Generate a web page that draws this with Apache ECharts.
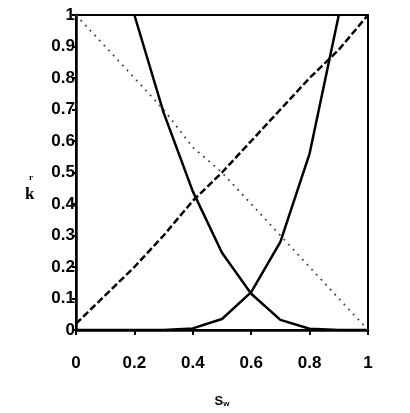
<!DOCTYPE html>
<html>
<head>
<meta charset="utf-8">
<script src="https://cdn.jsdelivr.net/npm/echarts@6/dist/echarts.min.js"></script>
<style>html,body{margin:0;padding:0;background:#fff;}#c{width:410px;height:413px;}</style>
</head>
<body>
<div id="c"></div>
<script>
const xTicks = [0, 0.2, 0.4, 0.6, 0.8, 1];
const yTicks = [0, 0.1, 0.2, 0.3, 0.4, 0.5, 0.6, 0.7, 0.8, 0.9, 1];

const kroX = [0.2, 0.3, 0.4, 0.5, 0.6, 0.7, 0.8, 0.9, 1.0];
const kroY = [1.0, 0.69, 0.44, 0.245, 0.115, 0.032, 0.004, 0, 0];

const krwX = [0, 0.1, 0.2, 0.3, 0.4, 0.5, 0.6, 0.7, 0.8, 0.9];
const krwY = [0, 0, 0, 0, 0.005, 0.035, 0.12, 0.28, 0.56, 1.0];

const dashX = [0, 0.1, 0.2, 0.3, 0.4, 0.5, 0.6, 0.7, 0.8, 0.9, 1.0];
const dashY = [0.02, 0.11, 0.2, 0.3, 0.41, 0.5, 0.6, 0.7, 0.8, 0.89, 1.0];

const dotX = [0, 0.1, 0.2, 0.3, 0.4, 0.5, 0.6, 0.7, 0.8, 0.9, 1.0];
const dotY = [1.0, 0.9, 0.8, 0.7, 0.58, 0.5, 0.4, 0.3, 0.2, 0.1, 0.0];

const pairs = (xs, ys) => xs.map((x, i) => [x, ys[i]]);

const chart = echarts.init(document.getElementById('c'));
const lblFont = { fontFamily: '"Liberation Sans", Arial, sans-serif', fontWeight: 'bold', fontSize: 17, color: '#000' };

chart.setOption({
  animation: false,
  backgroundColor: '#fff',
  grid: { left: 76, right: 42, top: 15, bottom: 79, show: true, borderColor: '#000', borderWidth: 2 },
  xAxis: {
    type: 'value', min: 0, max: 1, interval: 0.2,
    axisLine: { show: true, lineStyle: { color: '#000', width: 2.5 } },
    axisTick: { show: true, length: 5, lineStyle: { color: '#000', width: 2 } },
    splitLine: { show: false },
    axisLabel: Object.assign({ margin: 25, formatter: v => xTicks.includes(+v.toFixed(1)) ? String(+v.toFixed(1)) : '' }, lblFont),
    name: '{s|S}{w|w}', nameLocation: 'middle', nameGap: 64,
    nameTextStyle: { rich: {
      s: { fontFamily: '"Liberation Sans", Arial, sans-serif', fontWeight: 'bold', fontSize: 13, color: '#000' },
      w: { fontFamily: '"Liberation Sans", Arial, sans-serif', fontWeight: 'bold', fontSize: 8, color: '#000', padding: [6, 0, 0, 0] }
    } }
  },
  yAxis: {
    type: 'value', min: 0, max: 1, interval: 0.1,
    axisLine: { show: true, lineStyle: { color: '#000', width: 2.5 } },
    axisTick: { show: true, length: 4, lineStyle: { color: '#000', width: 2 } },
    splitLine: { show: false },
    axisLabel: Object.assign({ margin: 1, padding: [3, 0, 0, 0], formatter: v => { const r = +v.toFixed(1); return yTicks.includes(r) ? String(r) : ''; } }, lblFont)
  },
  graphic: [
    { type: 'text', left: 25, top: 186, style: { text: 'k', font: 'bold 17px "Liberation Serif", "Times New Roman", serif', fill: '#000' } },
    { type: 'text', left: 29, top: 173, style: { text: 'r', font: 'bold 9px "Liberation Serif", "Times New Roman", serif', fill: '#000' } }
  ],
  series: [
    { type: 'line', data: pairs(kroX, kroY), showSymbol: false, lineStyle: { color: '#000', width: 2.5 } },
    { type: 'line', data: pairs(krwX, krwY), showSymbol: false, lineStyle: { color: '#000', width: 2.5 } },
    { type: 'line', data: pairs(dashX, dashY), showSymbol: false, lineStyle: { color: '#000', width: 2.5, type: [7, 3] } },
    { type: 'line', data: pairs(dotX, dotY), showSymbol: false, lineStyle: { color: '#444', width: 1.8, type: [1.8, 5] } }
  ]
});
</script>
</body>
</html>
